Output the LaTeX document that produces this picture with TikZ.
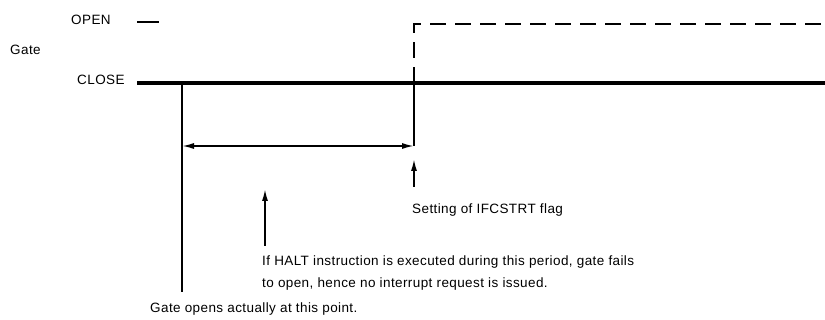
\documentclass[tikz,border=0pt]{standalone}
\usepackage{fontspec}
\setmainfont[LetterSpace=3]{Liberation Sans}
\usepackage{tikz}
\usetikzlibrary{arrows.meta}
\tikzset{
  lbl/.style ={font=\fontsize{13.5}{16}\selectfont, inner sep=0pt, anchor=base west},
  sig/.style ={draw=black, line width=3.2pt},
  dsig/.style={draw=black, line width=1.8pt, dash pattern=on 16pt off 9pt},
  mk/.style  ={draw=black, line width=1.6pt},
  ar/.style  ={-{Latex[length=12pt,width=6pt]}, draw=black, line width=1.6pt},
  dar/.style ={{Latex[length=12pt,width=6pt]}-{Latex[length=12pt,width=6pt]}, draw=black, line width=1.6pt},
}
\begin{document}
\begin{tikzpicture}[x=1pt,y=-1pt]
\useasboundingbox (0,0) rectangle (825,320);
% levels
\node[lbl] (open) at (71,25) {OPEN};
\node[lbl] (gate) at (10,55) {Gate};
\node[lbl] (close) at (77,85) {CLOSE};
\coordinate (openl) at (137,22);
\coordinate (openr) at (159,22);
\draw[mk,line width=1.8pt] (openl) -- (openr);
% gate signal
\coordinate (cl0) at (137,83);
\coordinate (cl1) at (825,83);
\coordinate (t0) at (182,83);
\coordinate (t1) at (414,83);
\coordinate (t1top) at (414,24);
\coordinate (optop) at (825,24);
\draw[sig] (cl0) -- (cl1);
\draw[dsig] (t1) -- (t1top) -- (optop);
% period marks
\coordinate (t0bot) at (182,292);
\coordinate (p0) at (182,146);
\coordinate (p1) at (414,146);
\draw[mk] (t0) -- (t0bot);
\draw[mk] (t1) -- (p1);
\draw[dar] (p0) -- (p1);
% notes
\coordinate (fl0) at (414,187);
\coordinate (fl1) at (414,159);
\draw[ar] (fl0) -- (fl1);
\node[lbl] (flag) at (412,214) {Setting of IFCSTRT flag};
\coordinate (ht0) at (265,246);
\coordinate (ht1) at (265,189);
\draw[ar] (ht0) -- (ht1);
\node[lbl] (halt) at (262,266) {If HALT instruction is executed during this period, gate fails};
\node[lbl] (halt2) at (262,288) {to open, hence no interrupt request is issued.};
\node[lbl] (act) at (150,313) {Gate opens actually at this point.};
\end{tikzpicture}
\end{document}
